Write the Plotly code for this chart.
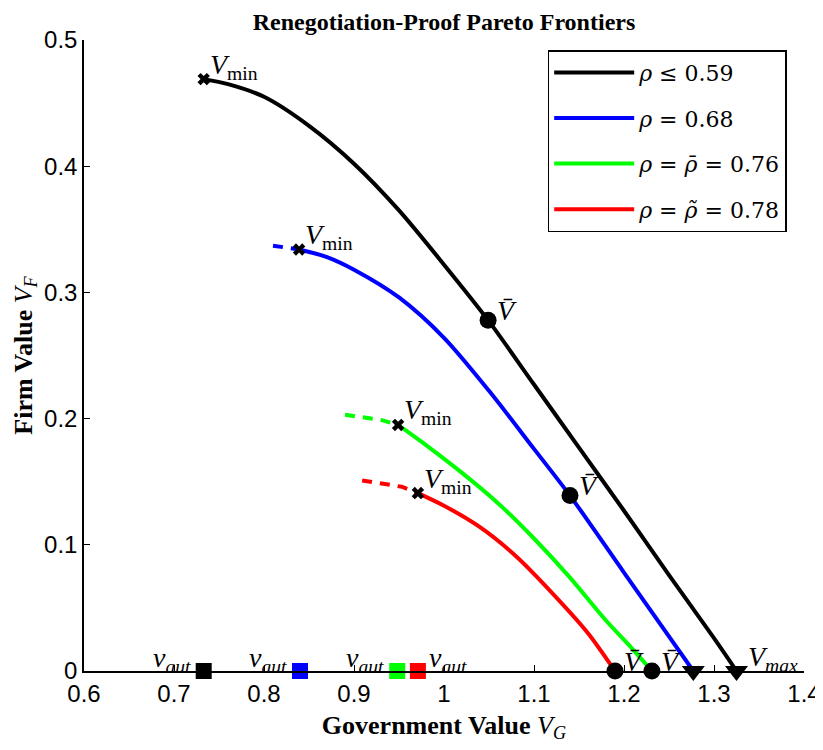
import plotly.graph_objects as go

# ---------------- data ----------------
black_G = [0.733, 0.76, 0.80, 0.85, 0.90, 0.95, 1.00, 1.049, 1.10, 1.15, 1.20, 1.25, 1.30, 1.325]
black_F = [0.469, 0.465, 0.455, 0.432, 0.402, 0.365, 0.322, 0.278, 0.227, 0.177, 0.127, 0.076, 0.026, 0.0]

blue_dash_G = [0.81, 0.839]
blue_dash_F = [0.337, 0.334]
blue_G = [0.839, 0.87, 0.90, 0.95, 1.00, 1.05, 1.10, 1.14, 1.20, 1.277]
blue_F = [0.334, 0.328, 0.318, 0.296, 0.264, 0.222, 0.176, 0.139, 0.078, 0.0]

green_dash_G = [0.89, 0.93, 0.949]
green_dash_F = [0.203, 0.199, 0.195]
green_G = [0.949, 0.98, 1.02, 1.06, 1.10, 1.14, 1.18, 1.21, 1.231]
green_F = [0.195, 0.179, 0.157, 0.133, 0.105, 0.074, 0.040, 0.017, 0.0]

red_dash_G = [0.909, 0.953, 0.971]
red_dash_F = [0.151, 0.146, 0.141]
red_G = [0.971, 1.00, 1.04, 1.08, 1.12, 1.16, 1.19]
red_F = [0.141, 0.131, 0.114, 0.091, 0.062, 0.030, 0.0]

vmin_G = [0.733, 0.839, 0.949, 0.971]
vmin_F = [0.469, 0.334, 0.195, 0.141]
vbar_G = [1.049, 1.14, 1.231, 1.19]
vbar_F = [0.278, 0.139, 0.0, 0.0]
vmax_G = [1.325, 1.277]
vmax_F = [0.0, 0.0]
vaut_G = [0.733, 0.84, 0.948, 0.971]
vaut_F = [0.0, 0.0, 0.0, 0.0]

colors = ["#000000", "#0000FF", "#00FF00", "#FF0000"]
names = ["<i>ρ</i> ≤ 0.59", "<i>ρ</i> = 0.68", "<i>ρ</i> = <i>ρ̄</i> = 0.76", "<i>ρ</i> = <i>ρ̃</i> = 0.78"]

SERIF = "Liberation Serif"
SANS = "Liberation Sans"

fig = go.Figure()

curves = [(black_G, black_F), (blue_G, blue_F), (green_G, green_F), (red_G, red_F)]
dashes = [None, (blue_dash_G, blue_dash_F), (green_dash_G, green_dash_F), (red_dash_G, red_dash_F)]

for i, ((g, f), c, n) in enumerate(zip(curves, colors, names)):
    if dashes[i] is not None:
        dg, df = dashes[i]
        fig.add_trace(go.Scatter(x=dg, y=df, mode="lines", showlegend=False,
                                 legendgroup=f"g{i}",
                                 line=dict(color=c, width=4, dash="10px,8px")))
    fig.add_trace(go.Scatter(x=g, y=f, mode="lines", name=n, legendgroup=f"g{i}",
                             line=dict(color=c, width=4, shape="spline", smoothing=0.8)))

# markers
fig.add_trace(go.Scatter(x=vmin_G, y=vmin_F, mode="markers", showlegend=False, cliponaxis=False,
                         marker=dict(symbol="x", size=11, color="black")))
fig.add_trace(go.Scatter(x=vbar_G, y=vbar_F, mode="markers", showlegend=False, cliponaxis=False,
                         marker=dict(symbol="circle", size=17, color="black")))
fig.add_trace(go.Scatter(x=vmax_G, y=vmax_F, mode="markers", showlegend=False, cliponaxis=False,
                         marker=dict(symbol="triangle-down", size=20, color="black")))
fig.add_trace(go.Scatter(x=vaut_G, y=vaut_F, mode="markers", showlegend=False, cliponaxis=False,
                         marker=dict(symbol="square", size=16, color=colors,
                                     line=dict(width=0))))

LBL = dict(family=SERIF, size=28, color="black")
ann = []
for g, f in zip(vmin_G, vmin_F):
    ann.append(dict(x=g, y=f, text="<i>V</i><sub>min</sub>", xanchor="left", yanchor="middle",
                    xshift=4, yshift=13, showarrow=False, font=LBL))
for g, f in zip(vbar_G, vbar_F):
    ann.append(dict(x=g, y=f, text="<i>V̄</i>", xanchor="left", yanchor="middle",
                    xshift=7, yshift=10, showarrow=False, font=LBL))
ann.append(dict(x=vmax_G[0], y=vmax_F[0], text="<i>V<sub>max</sub></i>", xanchor="left", yanchor="middle",
                xshift=9, yshift=13, showarrow=False, font=LBL))
for k, (g, f) in enumerate(zip(vaut_G, vaut_F)):
    left = k == 3
    ann.append(dict(x=g, y=f, text="<i>v<sub>aut</sub></i>", xanchor="left" if left else "right",
                    yanchor="middle", xshift=9 if left else -11, yshift=12, showarrow=False,
                    font=LBL))

# the page body adds an 8px offset, so the figure is 815x742 and margins are shifted
fig.update_layout(
    width=815, height=742,
    margin=dict(l=76, r=19, t=32, b=79),
    paper_bgcolor="white", plot_bgcolor="white",
    title=dict(text="<b>Renegotiation-Proof Pareto Frontiers</b>", x=0.5, xref="paper",
               y=1 - 14 / 742, yref="container", yanchor="middle", pad=dict(t=0, b=0),
               font=dict(family=SERIF, size=24, color="black")),
    xaxis=dict(range=[0.6, 1.4], tick0=0.6, dtick=0.1, showgrid=False, zeroline=False,
               automargin=False,
               showline=True, linecolor="black", linewidth=1.5, ticks="inside", ticklen=6,
               tickcolor="black", tickfont=dict(family=SANS, size=24, color="black"),
               title=dict(text="<b>Government Value</b> <i>V<sub>G</sub></i>", standoff=10,
                          font=dict(family=SERIF, size=26, color="black"))),
    yaxis=dict(range=[0, 0.5], tick0=0, dtick=0.1, showgrid=False, zeroline=False,
               automargin=False,
               showline=True, linecolor="black", linewidth=1.5, ticks="inside", ticklen=6,
               tickcolor="black", tickfont=dict(family=SANS, size=24, color="black"),
               title=dict(text="<b>Firm Value</b> <i>V<sub>F</sub></i>", standoff=4,
                          font=dict(family=SERIF, size=26, color="black"))),
    legend=dict(x=0.644, y=0.984, xanchor="left", yanchor="top", bgcolor="white",
                bordercolor="black", borderwidth=1.5, tracegroupgap=14,
                font=dict(family="DejaVu Serif", size=22, color="black"), itemwidth=80),
    annotations=ann,
    showlegend=True,
)

fig.write_html("out.html")
